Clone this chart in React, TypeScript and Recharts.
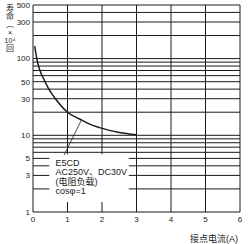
import React from 'react';
import {
  LineChart, Line, XAxis, YAxis, ReferenceLine, ReferenceArea,
} from 'recharts';

// contact current (A) vs. life (x10^4 operations)
const currentA = [0.05, 0.11, 0.35, 0.46, 0.65, 1.0, 1.35, 1.64, 1.93, 2.5, 3.0];
const lifeTimes = [145, 100, 50, 40, 30, 20, 16.3, 14, 12.6, 10.9, 10.2];

const xTicks = [0, 1, 2, 3, 4, 5, 6];
const yTicks = [1, 3, 5, 10, 30, 50, 100, 300, 500];
const yGridValues = [
  2, 3, 4, 5, 6, 7, 8, 9, 10, 20, 30, 40, 50, 60, 70, 80, 90, 100, 200, 300, 400, 500,
];
const xGridValues = [1, 2, 3, 4, 5, 6];

const noteLines = ['E5CD', 'AC250V、DC30V', '(电阻负载)', 'cosφ=1'];
const yTitleParts = ['寿', '命', '︵', '×', '10⁴', '回'];
const xTitle = '接点电流(A)';

const leader = [
  { x: 1.4, y: 15.7 },
  { x: 0.9, y: 5.5 },
];
const noteBox = { x1: 0.48, x2: 2.77, y1: 1.35, y2: 5.6 };

const data = currentA.map((x, i) => ({ x, life: lifeTimes[i] }));

const FONT = '"Liberation Sans", Arial, "Noto Sans CJK SC", sans-serif';
const INK = '#1a1a1a';

// white box with the note text, drawn over the grid
const NoteLabel = (props: any) => {
  const vb = props.viewBox || {};
  return (
    <g>
      <rect x={vb.x} y={vb.y} width={vb.width} height={vb.height} fill="#fff" />
      {noteLines.map((t, i) => (
        <text key={i} x={vb.x + 6} y={vb.y + 11 + i * 9.5} fontSize={9} fill={INK} fontFamily={FONT}>
          {t}
        </text>
      ))}
    </g>
  );
};

const YTitle = () => (
  <g>
    {yTitleParts.map((t, i) => (
      <text
        key={i}
        x={10}
        y={11 + i * 8}
        fontSize={i === 4 ? 7 : 8}
        fill={INK}
        fontFamily={FONT}
        textAnchor="middle"
      >
        {t}
      </text>
    ))}
  </g>
);

export default function App() {
  return (
    <div style={{ position: 'absolute', left: 0, top: 0, background: '#fff' }}>
      <LineChart
        width={248}
        height={244}
        data={data}
        margin={{ top: 5, right: 8, left: 3, bottom: 0 }}
      >
        <XAxis
          dataKey="x"
          type="number"
          domain={[0, 6]}
          ticks={xTicks}
          height={32}
          tickLine={false}
          tickSize={0}
          tickMargin={4}
          axisLine={{ stroke: INK }}
          tick={{ fontSize: 8, fill: INK, fontFamily: FONT }}
          label={{
            value: xTitle,
            position: 'insideBottomRight',
            offset: 2,
            fontSize: 9,
            fill: INK,
            fontFamily: FONT,
          }}
        />
        <YAxis
          type="number"
          scale="log"
          domain={[1, 500]}
          allowDataOverflow
          ticks={yTicks}
          width={30}
          tickLine={false}
          tickSize={0}
          tickMargin={3}
          axisLine={{ stroke: INK }}
          tick={{ fontSize: 8, fill: INK, fontFamily: FONT }}
          label={{ content: () => <YTitle /> }}
        />
        {yGridValues.map((v) => (
          <ReferenceLine key={'h' + v} y={v} stroke={INK} strokeWidth={1} zIndex={50} />
        ))}
        {xGridValues.map((v) => (
          <ReferenceLine key={'v' + v} x={v} stroke={INK} strokeWidth={1} zIndex={50} />
        ))}
        <ReferenceArea
          {...noteBox}
          fill="#fff"
          fillOpacity={1}
          stroke="none"
          zIndex={450}
          label={{ content: (p: any) => <NoteLabel {...p} /> }}
        />
        <ReferenceLine segment={leader} stroke={INK} strokeWidth={0.8} zIndex={460} />
        <Line
          dataKey="life"
          type="monotone"
          stroke={INK}
          strokeWidth={1.5}
          dot={false}
          isAnimationActive={false}
        />
      </LineChart>
    </div>
  );
}
